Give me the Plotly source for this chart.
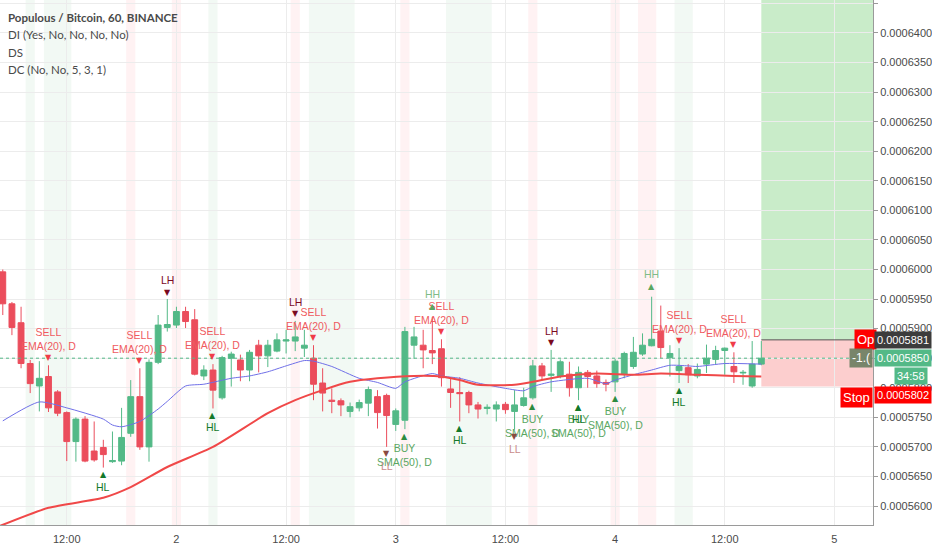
import pandas as pd
import plotly.graph_objects as go

# hourly candles, prices in units of 1e-7 BTC
opens = [5996, 5942, 5910, 5841, 5803, 5819, 5793, 5758, 5709, 5747,
         5693, 5699, 5675, 5676, 5723, 5785, 5700, 5843, 5902, 5906,
         5929, 5915, 5820, 5830, 5783, 5850, 5847, 5830, 5872, 5854,
         5862, 5879, 5879, 5867, 5850, 5808, 5779, 5778, 5760, 5766,
         5774, 5785, 5787, 5738, 5745, 5872, 5872, 5863, 5866, 5798,
         5792, 5792, 5771, 5765, 5764, 5772, 5760, 5770, 5783, 5837,
         5821, 5820, 5823, 5800, 5826, 5820, 5809, 5810, 5823, 5836,
         5857, 5871, 5896, 5851, 5829, 5834, 5820, 5840, 5848, 5863,
         5836, 5825, 5803, 5840]
highs = [6000, 5945, 5937, 5847, 5845, 5838, 5796, 5760, 5750, 5752,
         5743, 5712, 5726, 5766, 5813, 5833, 5848, 5923, 5950, 5937,
         5937, 5933, 5838, 5840, 5854, 5861, 5856, 5864, 5881, 5881,
         5892, 5898, 5913, 5898, 5872, 5833, 5799, 5782, 5775, 5780,
         5802, 5796, 5790, 5765, 5903, 5903, 5898, 5920, 5882, 5818,
         5818, 5795, 5776, 5772, 5777, 5776, 5796, 5800, 5847, 5842,
         5864, 5848, 5844, 5836, 5830, 5829, 5814, 5849, 5861, 5886,
         5892, 5954, 5939, 5872, 5867, 5840, 5841, 5873, 5871, 5868,
         5860, 5830, 5879, 5879]
lows = [5923, 5889, 5833, 5791, 5760, 5759, 5752, 5676, 5675, 5674,
        5675, 5665, 5673, 5669, 5717, 5695, 5675, 5840, 5895, 5901,
        5901, 5821, 5813, 5765, 5780, 5802, 5811, 5811, 5826, 5835,
        5860, 5858, 5862, 5852, 5779, 5760, 5757, 5752, 5750, 5760,
        5752, 5731, 5700, 5727, 5730, 5849, 5833, 5840, 5802, 5766,
        5743, 5757, 5748, 5755, 5743, 5756, 5729, 5768, 5780, 5813,
        5793, 5816, 5785, 5779, 5800, 5800, 5794, 5793, 5816, 5832,
        5854, 5870, 5850, 5819, 5808, 5808, 5816, 5825, 5840, 5822,
        5808, 5805, 5800, 5838]
closes = [5942, 5902, 5841, 5807, 5816, 5766, 5757, 5709, 5747, 5676,
          5678, 5687, 5677, 5716, 5785, 5700, 5843, 5906, 5907, 5929,
          5912, 5823, 5830, 5796, 5851, 5857, 5830, 5860, 5854, 5872,
          5881, 5881, 5886, 5872, 5806, 5791, 5777, 5771, 5768, 5775,
          5797, 5758, 5753, 5761, 5895, 5886, 5864, 5859, 5817, 5792,
          5790, 5771, 5764, 5767, 5771, 5763, 5771, 5783, 5837, 5820,
          5823, 5844, 5800, 5826, 5819, 5807, 5806, 5845, 5858, 5860,
          5872, 5882, 5868, 5858, 5836, 5822, 5831, 5850, 5863, 5867,
          5827, 5826, 5840, 5850]

# moving averages (bar index, value)
ema_idx = [0, 4, 7, 11, 12, 13, 15, 17, 18, 20, 22, 25, 27, 29, 31, 33, 34, 36,
           39, 41, 43, 44, 47, 48, 50, 52, 55, 57, 58, 60, 64, 66, 67, 69, 71, 73,
           75, 76, 79, 83]
ema_val = [5744, 5776, 5766, 5747, 5737, 5734, 5743, 5764, 5777, 5803, 5806, 5816,
           5820, 5827, 5837, 5846, 5845, 5836, 5816, 5809, 5799, 5810, 5824, 5820,
           5816, 5808, 5799, 5795, 5802, 5810, 5816, 5807, 5813, 5822, 5830, 5838,
           5837, 5836, 5841, 5840]
sma_idx = [-1, 5, 11, 14, 18, 23, 29, 32, 35, 38, 41, 45, 48, 50, 52, 56, 58, 61,
           65, 69, 72, 76, 80, 83]
sma_val = [5562, 5597, 5614, 5632, 5666, 5700, 5757, 5779, 5796, 5810, 5816, 5820,
           5819, 5813, 5805, 5805, 5810, 5819, 5824, 5822, 5824, 5822, 5820, 5819]

# signal bars
sell_idx = [5, 15, 23, 34, 48, 74, 80]
buy_idx = [44, 58, 63, 67]
hl_idx = [11, 23, 50, 63, 74]
lh_idx = [18, 32, 60]
hh_idx = [47, 71]
ll_idx = [42, 56]

pink_bands = [(14, 14), (19, 19), (32, 32), (44, 44), (58, 58), (67, 67), (70, 71)]
green_bands = [(3, 3), (5, 7), (23, 23), (34, 38), (49, 53), (74, 75)]

entry_price = 5881
stop_price = 5802
last_price = 5850
countdown = "34:58"

x_tick_times = ["2018-08-01 12:00", "2018-08-02 00:00", "2018-08-02 12:00",
                "2018-08-03 00:00", "2018-08-03 12:00", "2018-08-04 00:00",
                "2018-08-04 12:00", "2018-08-05 00:00"]
x_tick_text = ["12:00", "2", "12:00", "3", "12:00", "4", "12:00", "5"]

legend_lines = ["<b>Populous / Bitcoin, 60, BINANCE</b>", "DI (Yes, No, No, No, No)",
                "DS", "DC (No, No, 5, 3, 1)"]

U = 1e-7
T0 = pd.Timestamp("2018-08-01 05:00")


def at(i):
    return T0 + pd.Timedelta(hours=i)


def px(v):
    return [a * U for a in v]


UP = "#53b987"
DOWN = "#eb4d5c"
FONT = "Liberation Sans"

times = [at(i) for i in range(len(opens))]

fig = go.Figure()
fig.add_trace(go.Candlestick(
    x=times, open=px(opens), high=px(highs), low=px(lows), close=px(closes),
    increasing=dict(line=dict(color=UP, width=1), fillcolor=UP),
    decreasing=dict(line=dict(color=DOWN, width=1), fillcolor=DOWN),
    whiskerwidth=0, hoverinfo="skip",
))
fig.add_trace(go.Scatter(
    x=[at(i) for i in ema_idx], y=px(ema_val), mode="lines",
    line=dict(color="#6f6fe8", width=1, shape="spline", smoothing=0.6),
    hoverinfo="skip",
))
fig.add_trace(go.Scatter(
    x=[at(i) for i in sma_idx], y=px(sma_val), mode="lines",
    line=dict(color="#f04848", width=2, shape="spline", smoothing=0.6),
    hoverinfo="skip",
))

shapes = []
for a, b in pink_bands:
    shapes.append(dict(type="rect", xref="x", yref="paper", x0=at(a - 0.5), x1=at(b + 0.5),
                       y0=0, y1=1, fillcolor="rgba(250,70,90,0.07)", line_width=0, layer="below"))
for a, b in green_bands:
    shapes.append(dict(type="rect", xref="x", yref="paper", x0=at(a - 0.5), x1=at(b + 0.5),
                       y0=0, y1=1, fillcolor="rgba(60,160,90,0.065)", line_width=0, layer="below"))

last = len(opens) - 1
shapes.append(dict(type="rect", xref="x", yref="y", x0=at(last), x1=at(last + 30),
                   y0=entry_price * U, y1=7000 * U, fillcolor="rgba(60,185,60,0.28)",
                   line_width=0, layer="below"))
shapes.append(dict(type="rect", xref="x", yref="y", x0=at(last), x1=at(last + 30),
                   y0=stop_price * U, y1=entry_price * U, fillcolor="rgba(245,60,60,0.25)",
                   line_width=0, layer="below"))
shapes.append(dict(type="line", xref="x", yref="y", x0=at(last), x1=at(last + 30),
                   y0=entry_price * U, y1=entry_price * U, line=dict(color="#555555", width=1)))
shapes.append(dict(type="line", xref="paper", yref="y", x0=0, x1=1,
                   y0=last_price * U, y1=last_price * U,
                   line=dict(color=UP, width=1, dash="dot")))

ann = []


def marks(idx, label, tcolor, acolor, above, glyph, ashift, tshift):
    for i in idx:
        y = (highs[i] if above else lows[i]) * U
        s = 1 if above else -1
        ann.append(dict(x=at(i), y=y, xref="x", yref="y", text=glyph, showarrow=False,
                        font=dict(size=8, color=acolor, family="DejaVu Sans"),
                        yanchor="middle", yshift=s * ashift))
        ann.append(dict(x=at(i), y=y, xref="x", yref="y", text=label, showarrow=False,
                        font=dict(size=10.5, color=tcolor, family=FONT),
                        yanchor="bottom" if above else "top", yshift=s * tshift))


marks(sell_idx, "SELL<br>EMA(20), D", "#ef5a60", "#f03c48", True, "▼", 8, 11)
marks(buy_idx, "BUY<br>SMA(50), D", "#5aa762", "#2e8a40", False, "▲", 7, 11)
marks(hl_idx, "HL", "#13782a", "#13782a", False, "▲", 7, 11)
marks(lh_idx, "LH", "#7a0a1e", "#7a0a1e", True, "▼", 7, 11)
marks(hh_idx, "HH", "#7fbc88", "#5aa762", True, "▲", 10, 15)
marks(ll_idx, "LL", "#c98b8b", "#8a4a40", False, "▼", 7, 11)

for k, line in enumerate(legend_lines):
    ann.append(dict(x=0, y=1, xref="paper", yref="paper", text=line, showarrow=False,
                    xanchor="left", yanchor="middle", xshift=6, yshift=-17 - 17.6 * k,
                    font=dict(size=11.5, color="#4a4a4a", family="Lato")))

# position tool tags inside the pane
ann.append(dict(x=1, y=entry_price * U, xref="paper", yref="y", text="Op", showarrow=False,
                xanchor="left", xshift=-19, bgcolor="#ff0000", borderpad=2,
                font=dict(size=13, color="white", family=FONT)))
ann.append(dict(x=1, y=last_price * U, xref="paper", yref="y", text="-1.(", showarrow=False,
                xanchor="right", xshift=0, bgcolor="rgba(105,125,95,0.9)", borderpad=2,
                font=dict(size=12, color="white", family=FONT)))
ann.append(dict(x=1, y=stop_price * U, xref="paper", yref="y", text="Stop", showarrow=False,
                xanchor="right", xshift=0, yshift=-11, bgcolor="#ff0000", borderpad=2,
                font=dict(size=13, color="white", family=FONT)))

# price scale tags
for price, color, shift in [(entry_price, "#3c3c3c", 0), (last_price, UP, 0),
                            (stop_price, "#ff0000", -8)]:
    ann.append(dict(x=1, y=price * U, xref="paper", yref="y", text=f"{price * U:.7f}",
                    showarrow=False, xanchor="left", xshift=1, yshift=shift, bgcolor=color,
                    borderpad=2, font=dict(size=11, color="white", family=FONT)))
ann.append(dict(x=1, y=last_price * U, xref="paper", yref="y", text=countdown,
                showarrow=False, xanchor="right", xshift=55, yshift=-18, bgcolor=UP,
                borderpad=2, font=dict(size=11, color="white", family=FONT)))

fig.update_layout(
    width=932, height=550,
    margin=dict(l=0, r=56, t=0, b=25),
    paper_bgcolor="white", plot_bgcolor="white",
    showlegend=False,
    boxgap=0.2, boxgroupgap=0.2,
    shapes=shapes, annotations=ann,
    xaxis=dict(
        type="date", range=[at(-0.305), at(95.22)], rangeslider=dict(visible=False),
        tickvals=x_tick_times, ticktext=x_tick_text, showgrid=True, gridcolor="#ececec",
        showline=True, linecolor="#9a9a9a", linewidth=1, ticks="", ticklabelstandoff=4,
        tickfont=dict(size=11, color="#4a4a4a", family=FONT), zeroline=False,
    ),
    yaxis=dict(
        side="right", range=[5567.9 * U, 6455.8 * U], tick0=0.00056, dtick=0.000005,
        tickformat=".7f", showgrid=True, gridcolor="#ececec", showline=True,
        linecolor="#9a9a9a", linewidth=1, ticks="outside", ticklen=4, tickcolor="#9a9a9a",
        tickfont=dict(size=11, color="#4a4a4a", family=FONT), zeroline=False,
    ),
)

fig.write_html("out.html", config={"displayModeBar": False},
               post_script="document.body.style.margin='0';")
